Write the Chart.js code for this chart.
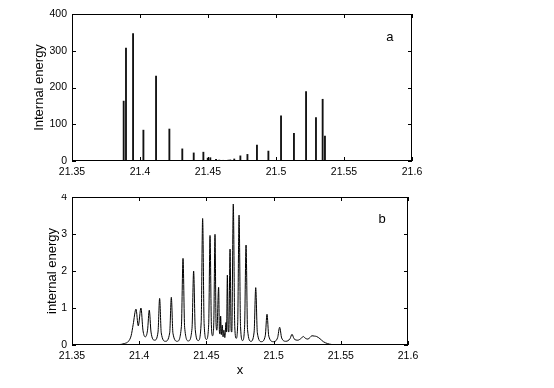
<!DOCTYPE html>
<html>
<head>
<meta charset="utf-8">
<script src="https://cdn.jsdelivr.net/npm/chart.js@4.4.1/dist/chart.umd.min.js"></script>
<style>
  body { margin: 0; background: #fff; }
  .panel { position: absolute; left: 0; width: 554px; height: 194px; }
</style>
</head>
<body>
<div class="panel" style="top:0"><canvas id="chartA" width="554" height="194"></canvas></div>
<div class="panel" style="top:194px"><canvas id="chartB" width="554" height="194"></canvas></div>
<script>
// x ticks shared by both panels
const xTicks = [21.35, 21.4, 21.45, 21.5, 21.55, 21.6]

// panel a: spike positions and heights
const spikeX = [21.3880, 21.3897, 21.3949, 21.4025, 21.4118, 21.4216, 21.4311, 21.4395, 21.4466, 21.4498,
                21.4517, 21.4559, 21.4583, 21.4613, 21.4650, 21.4664, 21.4693, 21.4738, 21.4790, 21.4860,
                21.4944, 21.5037, 21.5132, 21.5221, 21.5294, 21.5343, 21.5360]
const spikeY = [163, 307, 347, 84, 231, 87, 33, 22, 24, 8,
                9, 4.5, 2.5, 2, 2.5, 3, 5.5, 14, 18, 43,
                27, 123, 75, 189, 118, 168, 68]
const yTicksA = [0, 100, 200, 300, 400]

// panel b: curve read point by point (peaks, feet, valleys)
const curveX = [21.3800, 21.3850, 21.3890, 21.3920, 21.3940, 21.3955, 21.3976, 21.3993, 21.4013, 21.4028,
                21.4045, 21.4062, 21.4075, 21.4088, 21.4115, 21.4140, 21.4152, 21.4164, 21.4195, 21.4227,
                21.4239, 21.4251, 21.4283, 21.4314, 21.4326, 21.4338, 21.4366, 21.4393, 21.4405, 21.4417,
                21.4440, 21.4461, 21.4472, 21.4483, 21.4500, 21.4517, 21.4527, 21.4537, 21.4546, 21.4555,
                21.4564, 21.4572, 21.4578, 21.4591, 21.4597, 21.4601, 21.4606, 21.4611, 21.4618, 21.4624,
                21.4630, 21.4637, 21.4646, 21.4650, 21.4656, 21.4662, 21.4667, 21.4676, 21.4684, 21.4689,
                21.4700, 21.4711, 21.4722, 21.4733, 21.4743, 21.4754, 21.4769, 21.4784, 21.4795, 21.4806,
                21.4831, 21.4855, 21.4867, 21.4879, 21.4909, 21.4938, 21.4951, 21.4964, 21.4998, 21.5030,
                21.5045, 21.5060, 21.5091, 21.5122, 21.5137, 21.5152, 21.5180, 21.5205, 21.5221, 21.5237,
                21.5255, 21.5270, 21.5286, 21.5305, 21.5320, 21.5345, 21.5370, 21.5400, 21.5430, 21.5480,
                21.5600]
const curveY = [0.00, 0.01, 0.04, 0.10, 0.25, 0.55, 0.97, 0.52, 1.00, 0.40,
                0.22, 0.40, 0.94, 0.35, 0.13, 0.35, 1.26, 0.33, 0.10, 0.33,
                1.29, 0.32, 0.10, 0.50, 2.34, 0.48, 0.11, 0.45, 2.00, 0.42,
                0.12, 0.60, 3.42, 0.58, 0.15, 0.55, 2.96, 0.55, 0.25, 0.60,
                2.99, 0.55, 0.40, 1.56, 0.35, 0.30, 0.78, 0.28, 0.54, 0.22,
                0.40, 0.20, 0.61, 0.35, 1.89, 0.40, 0.35, 2.59, 0.40, 0.35,
                3.81, 0.50, 0.18, 0.60, 3.51, 0.50, 0.12, 0.48, 2.70, 0.42,
                0.10, 0.35, 1.55, 0.33, 0.09, 0.25, 0.83, 0.24, 0.09, 0.20,
                0.48, 0.19, 0.10, 0.17, 0.29, 0.17, 0.13, 0.18, 0.23, 0.18,
                0.16, 0.20, 0.25, 0.24, 0.23, 0.17, 0.09, 0.04, 0.015, 0.004,
                0.00]
const yTicksB = [0, 1, 2, 3, 4]

const FONT = "'Liberation Sans', Arial, Helvetica, sans-serif"

// box round the axes, inward ticks on all four sides, panel letter
const boxPlugin = {
    id: 'box',
    afterDraw(chart, args, opts) {
        const {ctx, chartArea: a} = chart
        const x = chart.scales.x, y = chart.scales.y
        ctx.save()
        ctx.strokeStyle = '#000'
        ctx.lineWidth = 1
        ctx.strokeRect(a.left + 0.5, a.top + 0.5, a.right - a.left - 1, a.bottom - a.top - 1)
        ctx.beginPath()
        xTicks.forEach(v => {
            const p = Math.round(x.getPixelForValue(v)) + 0.5
            ctx.moveTo(p, a.bottom); ctx.lineTo(p, a.bottom - 4)
            ctx.moveTo(p, a.top); ctx.lineTo(p, a.top + 4)
        })
        opts.yTicks.forEach(v => {
            const p = Math.round(y.getPixelForValue(v)) + 0.5
            ctx.moveTo(a.left, p); ctx.lineTo(a.left + 4, p)
            ctx.moveTo(a.right, p); ctx.lineTo(a.right - 4, p)
        })
        ctx.stroke()
        ctx.fillStyle = '#000'
        ctx.font = '13px ' + FONT
        ctx.textAlign = 'center'
        ctx.textBaseline = 'middle'
        ctx.fillText(opts.label, x.getPixelForValue(opts.at[0]), y.getPixelForValue(opts.at[1]))
        ctx.restore()
    }
}

function scales(yTicks, yMax, yTitle, yWidth, xHeight, xTitle) {
    return {
        x: {
            type: 'linear', min: 21.35, max: 21.6, offset: false,
            grid: {display: false, drawTicks: false, offset: false},
            border: {display: false},
            afterBuildTicks: s => { s.ticks = xTicks.map(v => ({value: v})) },
            afterFit: s => { s.height = xHeight; s.paddingLeft = 0; s.paddingRight = 0 },
            ticks: {color: '#000', padding: 5, maxRotation: 0, autoSkip: false,
                    font: {family: FONT, size: 10.5}, callback: v => String(+v.toFixed(2))},
            title: {display: !!xTitle, text: xTitle, color: '#000',
                    font: {family: FONT, size: 13}, padding: {top: 0, bottom: 10}}
        },
        y: {
            min: 0, max: yMax,
            grid: {display: false, drawTicks: false},
            border: {display: false},
            afterBuildTicks: s => { s.ticks = yTicks.map(v => ({value: v})) },
            afterFit: s => { s.width = yWidth; s.paddingTop = 0; s.paddingBottom = 0 },
            ticks: {color: '#000', padding: 5, font: {family: FONT, size: 10.5}},
            title: {display: true, text: yTitle, color: '#000',
                    font: {family: FONT, size: 13}, padding: 0}
        }
    }
}

new Chart('chartA', {
    type: 'bar',
    data: {
        datasets: [{
            data: spikeX.map((x, i) => ({x: x, y: spikeY[i]})),
            backgroundColor: '#111',
            barThickness: 1.2
        }]
    },
    options: {
        responsive: false, animation: false, devicePixelRatio: 1,
        layout: {padding: {left: 32, right: 142, top: 14, bottom: 0}},
        plugins: {legend: {display: false}, tooltip: {enabled: false},
                  box: {yTicks: yTicksA, label: 'a', at: [21.5838, 337]}},
        scales: scales(yTicksA, 400, 'Internal energy', 40, 33, '')
    },
    plugins: [boxPlugin]
});

new Chart('chartB', {
    type: 'line',
    data: {
        datasets: [{
            data: curveX.map((x, i) => ({x: x, y: curveY[i]})),
            borderColor: '#000',
            borderWidth: 1,
            pointRadius: 0,
            fill: false,
            cubicInterpolationMode: 'monotone'
        }]
    },
    options: {
        responsive: false, animation: false, devicePixelRatio: 1,
        layout: {padding: {left: 45, right: 146, top: 3, bottom: 0}},
        plugins: {legend: {display: false}, tooltip: {enabled: false},
                  box: {yTicks: yTicksB, label: 'b', at: [21.5807, 3.4]}},
        scales: scales(yTicksB, 4, 'internal energy', 27, 43, 'x')
    },
    plugins: [boxPlugin]
});
</script>
</body>
</html>
